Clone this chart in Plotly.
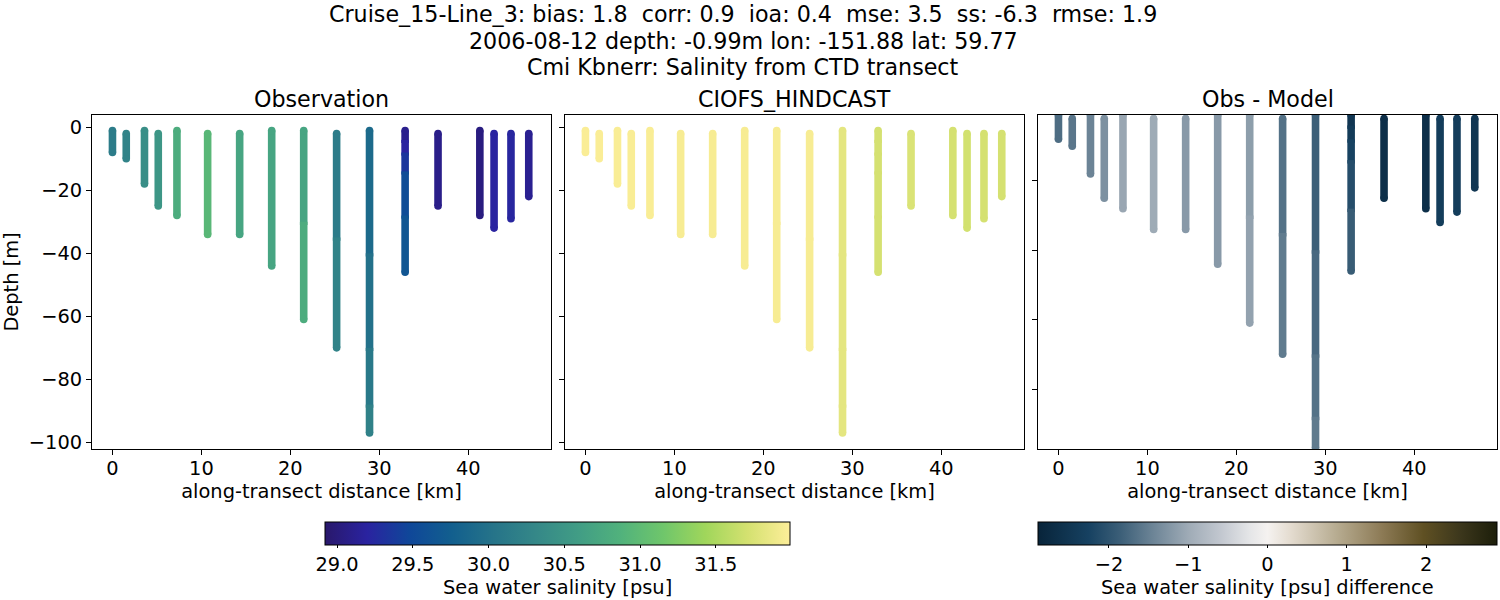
from plotly.subplots import make_subplots
from plotly.colors import sample_colorscale, get_colorscale
import plotly.graph_objects as go

title_lines = ['Cruise_15-Line_3: bias: 1.8  corr: 0.9  ioa: 0.4  mse: 3.5  ss: -6.3  rmse: 1.9',
               '2006-08-12 depth: -0.99m lon: -151.88 lat: 59.77',
               'Cmi Kbnerr: Salinity from CTD transect']
panel_titles = ['Observation', 'CIOFS_HINDCAST', 'Obs - Model']
colorbar_titles = ['Sea water salinity [psu]', 'Sea water salinity [psu] difference']

# one row per stretch of a cast that keeps about the same colour,
# stretches of one cast overlap by a metre so no seam shows
band_km = [0, 1.55, 3.6, 5.15, 7.25, 10.7, 14.3, 17.9,
           21.5, 21.5, 25.2, 25.2, 28.9, 28.9, 28.9, 28.9,
           32.9, 32.9, 32.9, 32.9, 32.9, 36.6, 41.3, 42.9, 44.8, 46.8]
band_top = [-1, -2, -1, -2, -1, -2, -2, -1,
            -1, -30, -2, -35, -1, -40, -70, -88,
            -1, -4, -8, -14, -28, -2, -1, -2, -2, -2]
band_bottom = [-8, -10, -18, -25, -28, -34, -34, -44,
               -31, -61, -36, -70, -41, -71, -89, -97,
               -5, -9, -15, -29, -46, -25, -28, -32, -29, -22]
obs_salinity = [30.15, 30.25, 30.4, 30.5, 30.8, 30.95, 30.7, 30.7,
                30.7, 30.8, 30.15, 30.25, 29.9, 30.0, 30.1, 30.22,
                29.1, 29.2, 29.35, 29.55, 29.65, 29.08, 29.03, 29.2, 29.22, 29.12]
model_salinity = [31.97, 31.97, 31.96, 31.96, 31.96, 31.95, 31.95, 31.95,
                  31.95, 31.95, 31.95, 31.95, 31.82, 31.82, 31.82, 31.82,
                  31.72, 31.72, 31.72, 31.72, 31.72, 31.75, 31.72, 31.7, 31.72, 31.72]
diff_salinity = [-1.7, -1.6, -1.45, -1.3, -1.05, -1.0, -1.2, -1.2,
                 -1.15, -1.1, -1.65, -1.55, -1.85, -1.75, -1.65, -1.55,
                 -2.5, -2.4, -2.25, -2.1, -1.9, -2.65, -2.65, -2.35, -2.35, -2.5]

salinity_ticks = [29.0, 29.5, 30.0, 30.5, 31.0, 31.5]
diff_ticks = [-2, -1, 0, 1, 2]
depth_ticks = [0, -20, -40, -60, -80, -100]
distance_ticks = [0, 10, 20, 30, 40]

sal_min, sal_max = 28.92, 31.99
diff_lim = 2.895

# plotly has no cmocean "diff", stops read off the reference colorbar
diff_scale = [[0.0, 'rgb(8,36,58)'], [0.11, 'rgb(22,65,97)'], [0.18, 'rgb(60,95,120)'],
              [0.25, 'rgb(108,132,150)'], [0.33, 'rgb(160,172,183)'], [0.40, 'rgb(195,200,208)'],
              [0.46, 'rgb(228,229,231)'], [0.5, 'rgb(245,242,240)'], [0.55, 'rgb(228,220,208)'],
              [0.65, 'rgb(183,172,145)'], [0.75, 'rgb(140,122,85)'], [0.84, 'rgb(95,80,35)'],
              [0.92, 'rgb(60,55,28)'], [1.0, 'rgb(28,30,10)']]

font = 'DejaVu Sans'
W, H = 1500, 600

fig = make_subplots(rows=1, cols=3)
# fixed pixel boxes for the three panels
boxes = [(92, 551), (565, 1024), (1038, 1497)]
top, bottom = 115, 449
label_size = 19.4
title_size = 22.2
bar_width = 7.6


def add_panel(col, values, scale, vmin, vmax, axis_name):
    for i in range(len(band_km)):
        pos = (values[i] - vmin) / (vmax - vmin)
        line_color = sample_colorscale(scale, [pos])[0]
        # only the ends of a whole cast get a round cap
        cap_top = bar_width if i == 0 or band_km[i - 1] != band_km[i] else 0
        cap_bottom = bar_width if i == len(band_km) - 1 or band_km[i + 1] != band_km[i] else 0
        fig.add_trace(go.Scatter(x=[band_km[i], band_km[i]],
                                 y=[band_top[i], band_bottom[i]],
                                 mode='lines+markers',
                                 line=dict(color=line_color, width=bar_width),
                                 marker=dict(size=[cap_top, cap_bottom],
                                             opacity=1,
                                             line=dict(width=0),
                                             color=[values[i], values[i]],
                                             coloraxis=axis_name),
                                 hoverinfo='skip',
                                 showlegend=False), row=1, col=col)


haline = get_colorscale('haline')
add_panel(1, obs_salinity, haline, sal_min, sal_max, 'coloraxis')
add_panel(2, model_salinity, haline, sal_min, sal_max, 'coloraxis')
add_panel(3, diff_salinity, diff_scale, -diff_lim, diff_lim, 'coloraxis2')

for col, (x0, x1) in enumerate(boxes, start=1):
    fig.update_xaxes(row=1, col=col,
                     domain=[x0 / W, x1 / W],
                     range=[-2.3, 49.3],
                     tickvals=distance_ticks,
                     showgrid=False, zeroline=False,
                     showline=True, mirror=True,
                     linecolor='black', linewidth=1,
                     ticks='outside', ticklen=5, tickcolor='black',
                     ticklabelstandoff=-3,
                     tickfont=dict(size=label_size),
                     title=dict(text='along-transect distance [km]',
                                font=dict(size=label_size), standoff=5))
    fig.update_yaxes(row=1, col=col,
                     domain=[1 - bottom / H, 1 - top / H],
                     range=[-102.1, 3.9] if col < 3 else [-97.3, -1.0],
                     tickvals=depth_ticks,
                     showticklabels=col == 1,
                     showgrid=False, zeroline=False,
                     showline=True, mirror=True,
                     linecolor='black', linewidth=1,
                     ticks='outside', ticklen=5, tickcolor='black',
                     tickfont=dict(size=label_size))
    fig.add_annotation(text=panel_titles[col - 1],
                       xref='paper', yref='paper',
                       x=(x0 + x1) / 2 / W, y=1 - 99 / H,
                       xanchor='center', yanchor='middle',
                       showarrow=False, font=dict(size=title_size))

fig.update_yaxes(row=1, col=1, title=dict(text='Depth [m]', font=dict(size=label_size), standoff=6))

for y_px, line in zip([14, 41, 67], title_lines):
    fig.add_annotation(text=line, xref='paper', yref='paper',
                       x=743 / W, y=1 - y_px / H,
                       xanchor='center', yanchor='middle',
                       showarrow=False, font=dict(size=title_size))

# colorbar titles sit too low when the colorbar places them itself
for x_px, line in zip([557, 1267], colorbar_titles):
    fig.add_annotation(text=line, xref='paper', yref='paper',
                       x=x_px / W, y=1 - 587 / H,
                       xanchor='center', yanchor='middle',
                       showarrow=False, font=dict(size=label_size))

fig.update_layout(width=W, height=H,
                  margin=dict(l=0, r=0, t=0, b=0, autoexpand=False),
                  paper_bgcolor='white', plot_bgcolor='white',
                  font=dict(family=font, color='black', size=label_size),
                  coloraxis=dict(colorscale='haline', cmin=sal_min, cmax=sal_max,
                                 colorbar=dict(orientation='h',
                                               x=325 / W, xanchor='left',
                                               y=1 - 522 / H, yanchor='top',
                                               len=465, lenmode='pixels',
                                               thickness=23, xpad=0, ypad=0,
                                               outlinecolor='black', outlinewidth=1,
                                               tickvals=salinity_ticks,
                                               ticktext=['%.1f' % t for t in salinity_ticks],
                                               ticks='outside', ticklen=3, tickcolor='black',
                                               tickfont=dict(size=label_size))),
                  coloraxis2=dict(colorscale=diff_scale, cmin=-diff_lim, cmax=diff_lim,
                                  colorbar=dict(orientation='h',
                                                x=1038 / W, xanchor='left',
                                                y=1 - 522 / H, yanchor='top',
                                                len=459, lenmode='pixels',
                                                thickness=23, xpad=0, ypad=0,
                                                outlinecolor='black', outlinewidth=1,
                                                tickvals=diff_ticks,
                                                ticks='outside', ticklen=3, tickcolor='black',
                                                tickfont=dict(size=label_size))))

# the page body has a default margin that would push the figure off the window
fig.write_html("out.html", config={'displayModeBar': False},
               post_script="document.body.style.margin='0';")
